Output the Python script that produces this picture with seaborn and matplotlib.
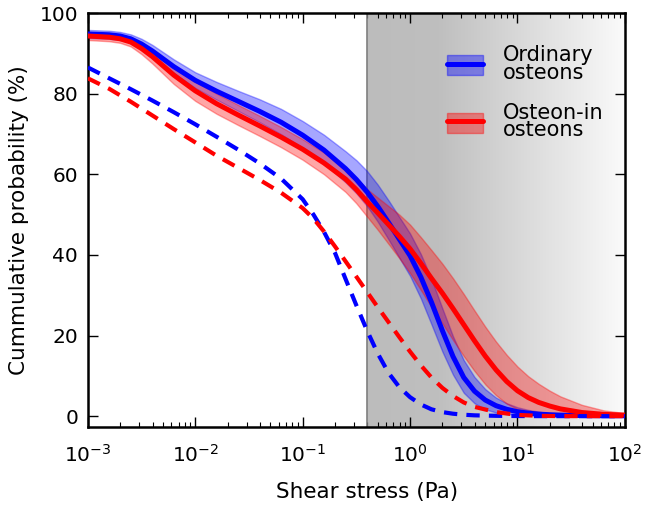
import numpy as np
import matplotlib
matplotlib.use("Agg")
import matplotlib.pyplot as plt
import seaborn as sns
from matplotlib.colors import LinearSegmentedColormap
from matplotlib.patches import Patch
from matplotlib.lines import Line2D

# ---------------- data ----------------
stress_solid = [0.001, 0.00158, 0.002, 0.00251, 0.00316, 0.00398, 0.00631, 0.01, 0.0158, 0.0251,
                0.0398, 0.0631, 0.1, 0.158, 0.251, 0.316, 0.398, 0.501, 0.631, 0.794,
                1.0, 1.26, 1.58, 2.0, 2.51, 3.16, 3.98, 5.01, 6.31, 7.94,
                10.0, 12.6, 15.8, 20.0, 25.1, 39.8, 63.1, 100.0]
ordinary_mean = [94.8, 94.6, 94.3, 93.6, 92.3, 90.6, 86.7, 83.3, 80.6, 78.1,
                 75.6, 72.9, 69.7, 66.0, 61.4, 58.7, 55.6, 52.0, 48.0, 43.9,
                 39.8, 34.5, 28.3, 21.2, 14.8, 9.6, 6.2, 4.0, 2.6, 1.7,
                 1.1, 0.75, 0.5, 0.35, 0.25, 0.15, 0.1, 0.1]
ordinary_upper = [95.8, 95.6, 95.3, 94.7, 93.6, 92.1, 88.5, 85.3, 82.9, 80.7,
                  78.6, 76.2, 73.2, 69.8, 65.7, 63.5, 60.8, 57.4, 53.5, 49.4,
                  45.3, 40.2, 34.1, 26.7, 19.8, 13.9, 9.7, 6.7, 4.6, 3.2,
                  2.2, 1.55, 1.1, 0.75, 0.55, 0.3, 0.18, 0.15]
ordinary_lower = [93.8, 93.6, 93.3, 92.6, 91.2, 89.3, 85.1, 81.4, 78.5, 75.7,
                  72.9, 69.9, 66.5, 62.7, 58.0, 55.3, 52.1, 48.2, 43.8, 39.3,
                  34.8, 29.2, 22.8, 16.0, 10.3, 5.8, 3.2, 1.7, 0.9, 0.5,
                  0.3, 0.2, 0.1, 0.07, 0.05, 0.03, 0.02, 0.02]
osteonin_mean = [94.3, 94.0, 93.6, 92.8, 91.2, 89.2, 84.6, 80.7, 77.5, 74.7,
                 72.0, 69.2, 66.2, 62.8, 58.8, 56.2, 53.2, 50.4, 47.5, 44.6,
                 41.5, 37.9, 34.2, 30.5, 26.7, 22.7, 18.7, 14.9, 11.5, 8.6,
                 6.3, 4.6, 3.4, 2.5, 1.8, 0.9, 0.45, 0.25]
osteonin_upper = [95.3, 95.0, 94.6, 93.9, 92.5, 90.7, 86.6, 83.0, 80.0, 77.2,
                  74.5, 71.7, 68.7, 65.4, 61.6, 59.1, 56.3, 54.2, 52.1, 50.0,
                  47.5, 44.4, 41.2, 37.8, 34.2, 30.3, 26.2, 22.2, 18.5, 15.2,
                  12.3, 9.9, 8.0, 6.3, 4.9, 2.8, 1.45, 0.75]
osteonin_lower = [93.3, 93.0, 92.6, 91.7, 89.8, 87.5, 82.4, 78.2, 75.0, 72.2,
                  69.5, 66.7, 63.6, 60.0, 55.6, 52.8, 49.5, 46.2, 42.7, 39.2,
                  35.5, 31.3, 27.1, 23.0, 18.9, 14.9, 11.2, 7.9, 5.2, 3.1,
                  1.7, 0.9, 0.5, 0.3, 0.2, 0.1, 0.05, 0.05]

stress_dashed = [0.001, 0.00158, 0.00251, 0.00398, 0.00631, 0.01, 0.0158, 0.0251, 0.0398, 0.0631,
                 0.1, 0.126, 0.158, 0.2, 0.251, 0.316, 0.398, 0.501, 0.631, 0.794,
                 1.0, 1.26, 1.58, 2.0, 2.51, 3.16, 3.98, 6.31, 10.0, 15.8, 25.1, 100.0]
ordinary_dashed = [86.5, 83.8, 81.1, 78.3, 75.4, 72.4, 69.3, 66.1, 62.7, 58.9,
                   53.8, 50.0, 45.7, 40.5, 34.0, 27.5, 21.2, 15.5, 10.7, 7.2,
                   4.7, 2.9, 1.7, 1.0, 0.6, 0.35, 0.2, 0.08, 0.03, 0.0, 0.0, 0.0]
osteonin_dashed = [83.8, 81.2, 78.0, 74.6, 71.2, 67.9, 64.6, 61.6, 58.6, 55.4,
                   51.6, 49.0, 45.8, 42.1, 38.4, 34.6, 30.8, 27.0, 23.3, 19.6,
                   16.0, 12.6, 9.6, 7.0, 5.0, 3.4, 2.3, 1.0, 0.3, 0.08, 0.0, 0.0]

shaded_from = 0.4
x_limits = (1e-3, 1e2)
y_limits = (-2.7, 100)
y_ticks = [0, 20, 40, 60, 80, 100]
labels = ["Ordinary\nosteons", "Osteon-in\nosteons"]

BLUE = "#0000ff"
RED = "#ff0000"

# ---------------- style ----------------
sns.set_style("ticks")
plt.rcParams['font.family'] = ['DejaVu Sans']
plt.rcParams['mathtext.fontset'] = 'dejavusans'
plt.rcParams['text.color'] = 'black'
plt.rcParams['axes.labelcolor'] = 'black'
plt.rcParams['xtick.color'] = 'black'
plt.rcParams['ytick.color'] = 'black'

fig = plt.figure(figsize=(6.46, 5.08), dpi=100)
ax = fig.add_axes([0.136, 0.1594, 0.8313, 0.815])
ax.set_xscale('log')
ax.set_xlim(*x_limits)
ax.set_ylim(*y_limits)

# shaded gradient region
frac = (np.log10(shaded_from) - np.log10(x_limits[0])) / (np.log10(x_limits[1]) - np.log10(x_limits[0]))
cmap = LinearSegmentedColormap.from_list('g', [(0, '#bcbcbc'), (0.28, '#bfbfbf'), (1, '#fafafa')])
grad = np.linspace(0, 1, 256).reshape(1, -1)
ax.imshow(grad, cmap=cmap, aspect='auto', extent=(frac, 1, 0, 1),
          transform=ax.transAxes, zorder=0, interpolation='bilinear')
ax.axvline(shaded_from, color='#7f7f7f', lw=1.2, zorder=1)

# bands
ax.fill_between(stress_solid, ordinary_lower, ordinary_upper, color=BLUE, alpha=0.35,
                lw=1, edgecolor=BLUE, zorder=2)
ax.fill_between(stress_solid, osteonin_lower, osteonin_upper, color=RED, alpha=0.35,
                lw=1, edgecolor=RED, zorder=2)

# lines
sns.lineplot(x=stress_solid, y=ordinary_mean, ax=ax, color=BLUE, lw=3.6,
             sort=False, estimator=None, zorder=3)
sns.lineplot(x=stress_solid, y=osteonin_mean, ax=ax, color=RED, lw=3.6,
             sort=False, estimator=None, zorder=3)
sns.lineplot(x=stress_dashed, y=ordinary_dashed, ax=ax, color=BLUE, lw=3.0,
             linestyle=(0, (3.2, 2.2)), sort=False, estimator=None, zorder=4)
sns.lineplot(x=stress_dashed, y=osteonin_dashed, ax=ax, color=RED, lw=3.0,
             linestyle=(0, (3.2, 2.2)), sort=False, estimator=None, zorder=4)

ax.set_xlim(*x_limits)
ax.set_ylim(*y_limits)
ax.set_yticks(y_ticks)

# axes style
for s in ax.spines.values():
    s.set_visible(True)
    s.set_linewidth(1.8)
    s.set_color('black')
ax.tick_params(which='both', direction='in', top=True, right=True, colors='black',
               labelsize=14.5)
ax.tick_params(which='major', length=7, width=1.0, pad=7)
ax.tick_params(axis='x', which='major', pad=12)
ax.tick_params(which='minor', length=3.5, width=0.8)
ax.yaxis.set_minor_locator(matplotlib.ticker.NullLocator())

ax.set_xlabel("Shear stress (Pa)", fontsize=15.5)
ax.set_ylabel("Cummulative probability (%)", fontsize=15.5)
ax.xaxis.set_label_coords(0.52, -0.133)
ax.yaxis.set_label_coords(-0.11, 0.5)

# legend
handles = [
    (Patch(facecolor=BLUE, alpha=0.4, edgecolor=BLUE), Line2D([], [], color=BLUE, lw=3.6)),
    (Patch(facecolor=RED, alpha=0.4, edgecolor=RED), Line2D([], [], color=RED, lw=3.6)),
]
leg = ax.legend(handles, labels, loc='upper left', bbox_to_anchor=(0.633, 0.967),
                frameon=False, fontsize=15, handlelength=1.75, handleheight=1.1,
                handletextpad=0.95, labelspacing=0.95)
for t in leg.get_texts():
    t.set_linespacing(0.85)

fig.savefig("out.png", dpi=100)
